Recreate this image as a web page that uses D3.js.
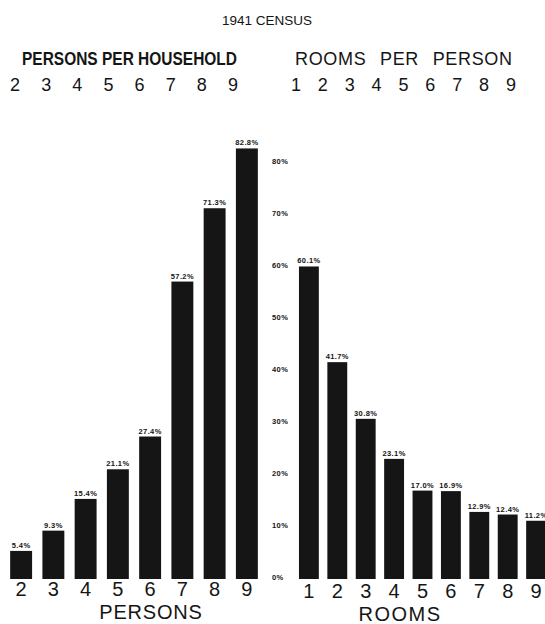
<!DOCTYPE html>
<html>
<head>
<meta charset="utf-8">
<script src="https://cdn.jsdelivr.net/npm/d3@7"></script>
<style>
  body { margin: 0; background: #fff; }
  svg { display: block; font-family: "Liberation Sans", Arial, sans-serif; }
</style>
</head>
<body>
<div id="chart"></div>
<script>
// data
const personCats = ["2", "3", "4", "5", "6", "7", "8", "9"];
const personValues = [5.4, 9.3, 15.4, 21.1, 27.4, 57.2, 71.3, 82.8];
const roomCats = ["1", "2", "3", "4", "5", "6", "7", "8", "9"];
const roomValues = [60.1, 41.7, 30.8, 23.1, 17.0, 16.9, 12.9, 12.4, 11.2];
const yTicks = [0, 10, 20, 30, 40, 50, 60, 70, 80];

const title = "1941 CENSUS";
const leftHeader = "PERSONS PER HOUSEHOLD";
const rightHeader = "ROOMS PER PERSON";
const leftAxisTitle = "PERSONS";
const rightAxisTitle = "ROOMS";

const width = 545, height = 624;
const baseY = 579;
const ink = "#151515";

const svg = d3.select("#chart").append("svg")
  .attr("width", width)
  .attr("height", height);

const y = d3.scaleLinear().domain([0, 80]).range([baseY, baseY - 416]);

const xLeft = d3.scaleBand().domain(personCats)
  .range([5, 263]).paddingInner(0.32).paddingOuter(0.16);
const xRight = d3.scaleBand().domain(roomCats)
  .range([294.7, 550.3]).paddingInner(0.3).paddingOuter(0.15);

const fmt = v => d3.format(".1f")(v) + "%";

// header
svg.append("text")
  .attr("x", 267).attr("y", 25)
  .attr("text-anchor", "middle")
  .attr("font-size", 13.5)
  .attr("fill", ink)
  .text(title);

svg.append("text")
  .attr("x", 22).attr("y", 64.5)
  .attr("font-size", 18).attr("font-weight", "bold")
  .attr("textLength", 215).attr("lengthAdjust", "spacingAndGlyphs")
  .attr("fill", ink)
  .text(leftHeader);

svg.append("text")
  .attr("x", 295).attr("y", 64.5)
  .attr("font-size", 18)
  .attr("word-spacing", 8)
  .attr("textLength", 217).attr("lengthAdjust", "spacing")
  .attr("fill", ink)
  .text(rightHeader);

const hLeft = d3.scalePoint().domain(personCats).range([15, 233]);
const hRight = d3.scalePoint().domain(roomCats).range([296, 511]);

svg.append("g").selectAll("text")
  .data(personCats)
  .join("text")
  .attr("x", d => hLeft(d)).attr("y", 90.5)
  .attr("text-anchor", "middle")
  .attr("font-size", 18)
  .attr("fill", ink)
  .text(d => d);

svg.append("g").selectAll("text")
  .data(roomCats)
  .join("text")
  .attr("x", d => hRight(d)).attr("y", 90.5)
  .attr("text-anchor", "middle")
  .attr("font-size", 18)
  .attr("fill", ink)
  .text(d => d);

// bars
function drawBars(cats, values, x, pad) {
  const g = svg.append("g");
  const rows = cats.map((c, i) => ({ cat: c, value: values[i] }));

  g.selectAll("rect")
    .data(rows)
    .join("rect")
    .attr("x", d => x(d.cat))
    .attr("y", d => y(d.value))
    .attr("width", x.bandwidth())
    .attr("height", d => baseY - y(d.value))
    .attr("fill", ink);

  g.selectAll("text")
    .data(rows)
    .join("text")
    .attr("x", d => x(d.cat) + x.bandwidth() / 2)
    .attr("y", d => y(d.value) - 3)
    .attr("text-anchor", "middle")
    .attr("font-size", 7.5)
    .attr("font-weight", "bold")
    .attr("letter-spacing", 0.4)
    .attr("fill", ink)
    .text(d => fmt(d.value));

  const axis = svg.append("g")
    .attr("transform", `translate(0,${baseY})`)
    .call(d3.axisBottom(x).tickSize(0).tickPadding(pad));
  axis.select(".domain").remove();
  axis.selectAll("text")
    .attr("font-size", 20)
    .attr("font-family", "Liberation Sans, Arial, sans-serif")
    .attr("fill", ink);
}

drawBars(personCats, personValues, xLeft, 3);
drawBars(roomCats, roomValues, xRight, 5);

// percent axis between the two groups
const yAxis = svg.append("g")
  .attr("transform", "translate(272,-2)")
  .call(d3.axisRight(y).tickValues(yTicks).tickSize(0).tickPadding(0)
    .tickFormat(d => d + "%"));
yAxis.select(".domain").remove();
yAxis.selectAll("text")
  .attr("font-size", 7.5)
  .attr("font-weight", "bold")
  .attr("letter-spacing", 0.4)
  .attr("font-family", "Liberation Sans, Arial, sans-serif")
  .attr("fill", ink);

// axis titles
svg.append("text")
  .attr("x", 151).attr("y", 619)
  .attr("text-anchor", "middle")
  .attr("font-size", 20)
  .attr("letter-spacing", 0.8)
  .attr("fill", ink)
  .text(leftAxisTitle);

svg.append("text")
  .attr("x", 400).attr("y", 621)
  .attr("text-anchor", "middle")
  .attr("font-size", 20)
  .attr("letter-spacing", 1.5)
  .attr("fill", ink)
  .text(rightAxisTitle);
</script>
</body>
</html>
